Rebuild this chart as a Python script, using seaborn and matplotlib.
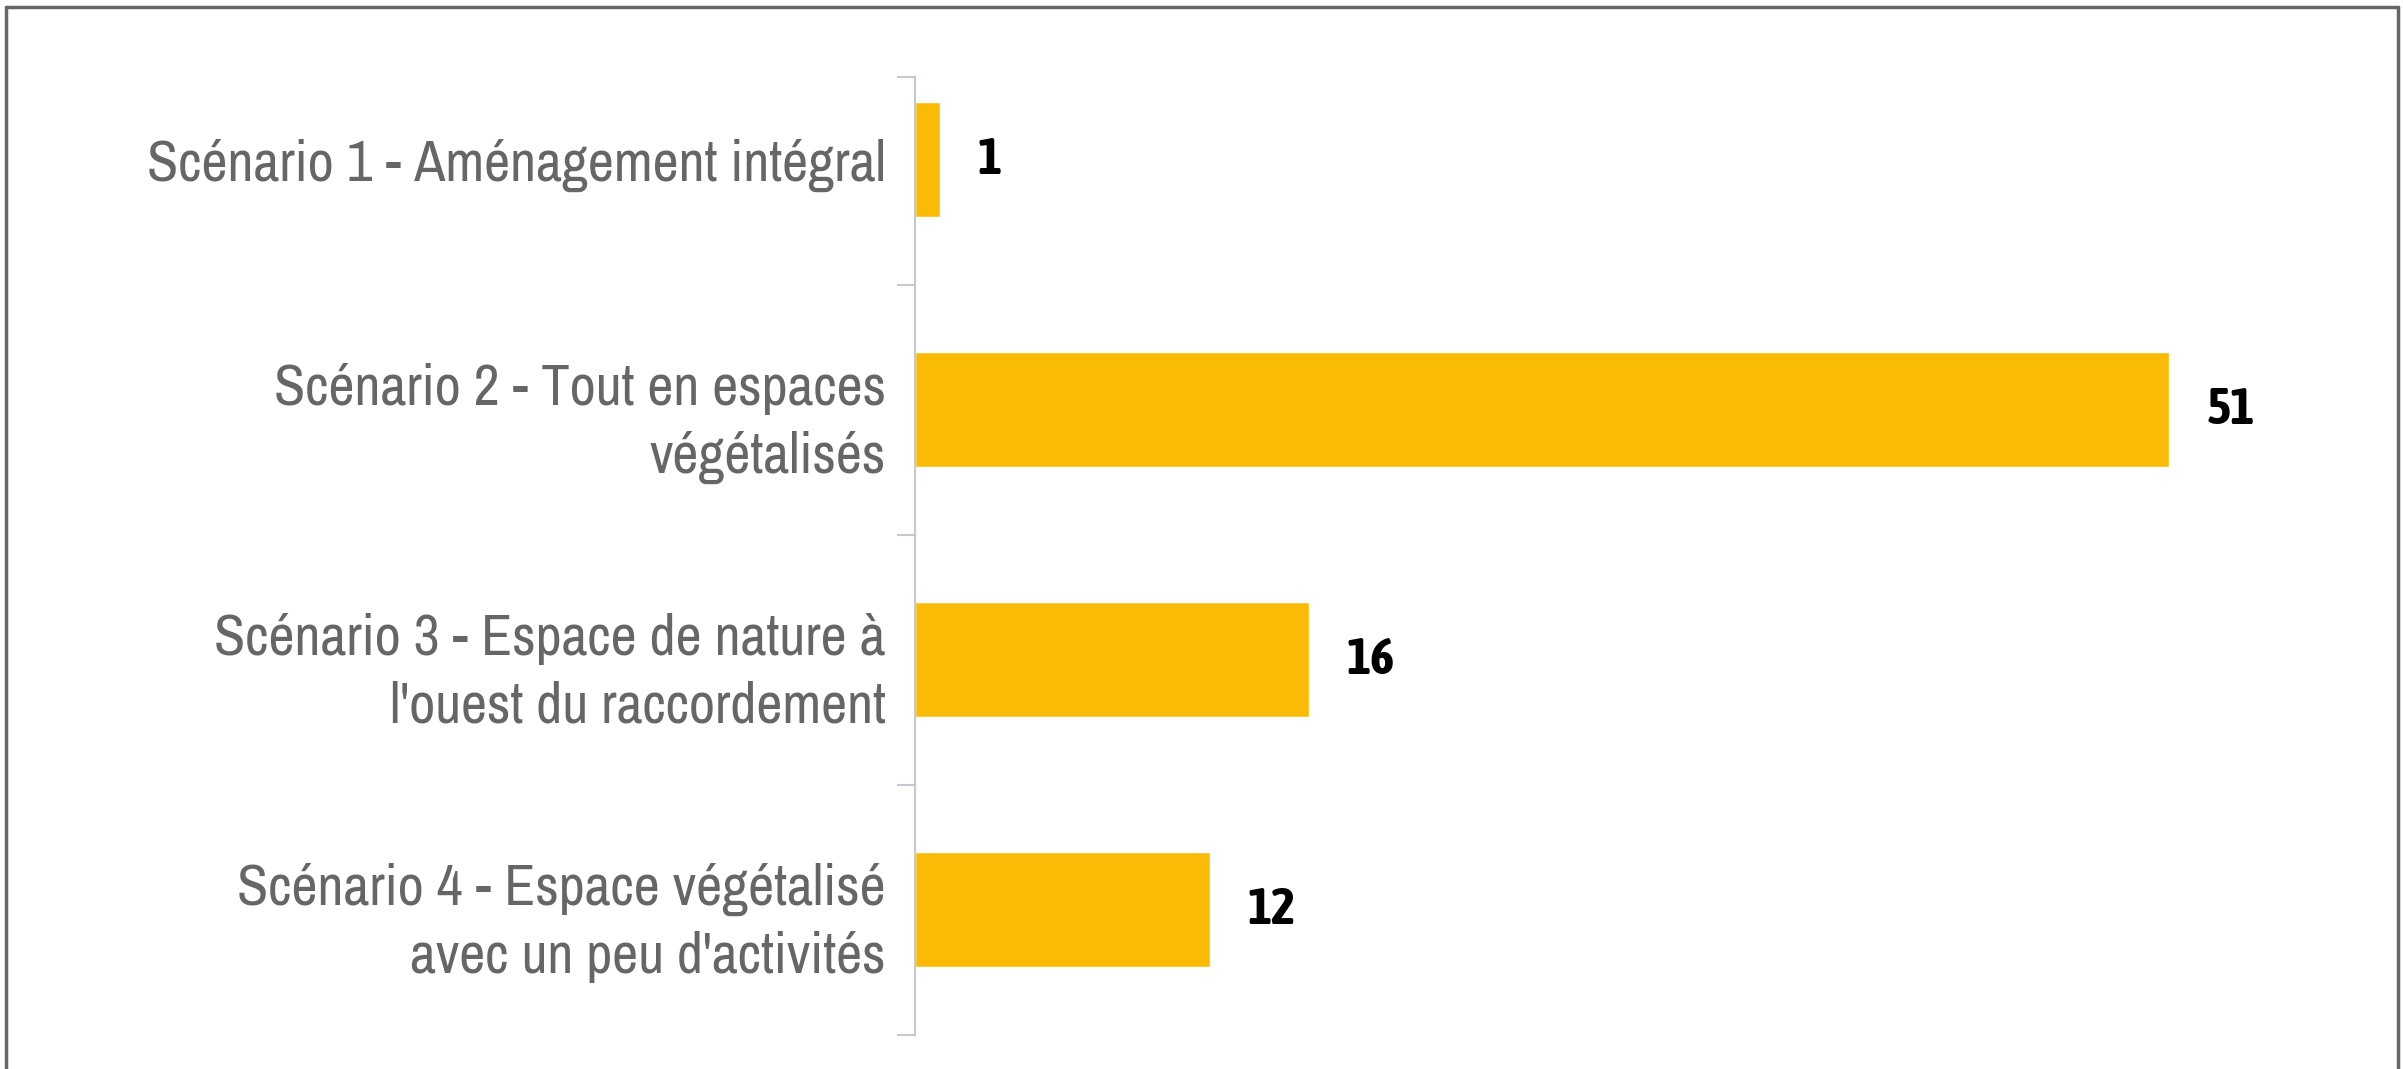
import matplotlib
matplotlib.use("Agg")
import matplotlib.pyplot as plt
import seaborn as sns
import pandas as pd
from matplotlib.lines import Line2D

scenarios = [
    "Scénario 1 - Aménagement intégral",
    "Scénario 2 - Tout en espaces\nvégétalisés",
    "Scénario 3 - Espace de nature à\nl'ouest du raccordement",
    "Scénario 4 - Espace végétalisé\navec un peu d'activités",
]
votes = [1, 51, 16, 12]

BAR_COLOR = "#F9BB06"
LABEL_COLOR = "#666666"
AXIS_COLOR = "#c5c8d0"

sns.set_style("white")
plt.rcParams["font.family"] = ["Archivo Narrow", "DejaVu Sans"]

df = pd.DataFrame({"scenario": scenarios, "votes": votes})

fig = plt.figure(figsize=(24.03, 10.69), dpi=100)
ax = fig.add_axes([0.3808, 0.0318, 0.614, 0.896])

sns.barplot(data=df, x="votes", y="scenario", orient="h", color=BAR_COLOR,
            width=0.46, saturation=1, ax=ax)

ax.set_xlim(0, 60)
ax.set_ylim(3.5, -0.33)
ax.set_xlabel("")
ax.set_ylabel("")
ax.set_xticks([])

for s in ["top", "right", "bottom"]:
    ax.spines[s].set_visible(False)
ax.spines["left"].set_color(AXIS_COLOR)
ax.spines["left"].set_linewidth(1.5)

ax.tick_params(axis="y", which="major", length=0, pad=21, labelsize=41, labelcolor=LABEL_COLOR)
for lbl in ax.get_yticklabels():
    lbl.set_horizontalalignment("right")
    lbl.set_multialignment("right")
    lbl.set_linespacing(1.37)
ax.set_yticks([-0.33, 0.5, 1.5, 2.5, 3.5], minor=True)
ax.tick_params(axis="y", which="minor", length=13, width=1.5, color=AXIS_COLOR, left=True)

for i, v in enumerate(votes):
    ax.annotate(str(v), xy=(v, i), xytext=(27, 0), textcoords="offset points",
                ha="left", va="center", fontsize=37, fontweight="bold", color="black",
                family=["Asap Condensed", "DejaVu Sans"])

# outer frame (open at the bottom)
frame_kw = dict(color="#666666", linewidth=2.5, transform=fig.transFigure)
fig.add_artist(Line2D([6 / 2403, 6 / 2403], [0, 1 - 7 / 1069], **frame_kw))
fig.add_artist(Line2D([2398 / 2403, 2398 / 2403], [0, 1 - 7 / 1069], **frame_kw))
fig.add_artist(Line2D([6 / 2403, 2398 / 2403], [1 - 7 / 1069, 1 - 7 / 1069], **frame_kw))

fig.savefig("out.png", dpi=100)
